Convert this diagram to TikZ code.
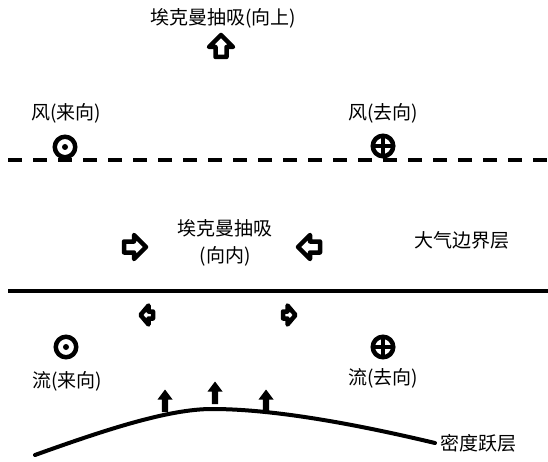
\documentclass[tikz,border=0pt]{standalone}
\usepackage{fontspec}
\newfontfamily\cjk{Noto Sans CJK SC}
\tikzset{
  lbl/.style={font=\cjk\fontsize{19}{22}\selectfont, inner sep=0pt},
  hollow/.style={draw, line width=4.5pt, fill=white, line join=round},
  smallhollow/.style={draw, line width=4.5pt, fill=white, line join=round},
  ring/.style={circle, draw, line width=4.5pt, minimum size=20.5pt, inner sep=0pt, fill=white},
  pics/bigarrow/.style={code={\draw[hollow] (0,-12) -- (12,0) -- (5.5,0) -- (5.5,10) -- (-5.5,10) -- (-5.5,0) -- (-12,0) -- cycle;}},
  pics/smallarrow/.style={code={\draw[smallhollow] (0,-6.5) -- (9.5,1.5) -- (3.5,1.5) -- (3.5,6) -- (-3.5,6) -- (-3.5,1.5) -- (-9.5,1.5) -- cycle;}},
  pics/solidup/.style={code={\fill (0,-11.5) -- (7.5,-1.5) -- (3.2,-1.5) -- (3.2,11) -- (-3.2,11) -- (-3.2,-1.5) -- (-7.5,-1.5) -- cycle;}},
}
\begin{document}
\begin{tikzpicture}[x=1pt,y=-1pt]
\useasboundingbox (0,0) rectangle (548,462);
% top
\node[lbl] (ektop) at (223,18) {埃克曼抽吸(向上)};
\pic at (221,47) {bigarrow};
% wind
\node[lbl] (windin) at (66,113) {风(来向)};
\node[lbl] (windout) at (383,113) {风(去向)};
\coordinate (dl) at (8,160);
\coordinate (dr) at (548,160);
\draw[line width=4.5pt, dash pattern=on 14pt off 11pt] (dl) -- (dr);
\node[ring] (cw1) at (65,147) {};
\fill (cw1) circle (3pt);
\node[ring] (cw2) at (383,146) {};
\draw[line width=3.5pt] ([xshift=-8pt]cw2.center) -- ([xshift=8pt]cw2.center) ([yshift=-8pt]cw2.center) -- ([yshift=8pt]cw2.center);
% middle
\node[lbl] (ekin) at (225,228) {埃克曼抽吸};
\node[lbl] (ekin2) at (225,256) {(向内)};
\node[lbl] (abl) at (462,240) {大气边界层};
\pic[rotate=-90] at (134,247) {bigarrow};
\pic[rotate=90] at (310,247) {bigarrow};
\coordinate (sl) at (8,291);
\coordinate (sr) at (548,291);
\draw[line width=4pt] (sl) -- (sr);
\pic[rotate=90] at (147,315) {smallarrow};
\pic[rotate=-90] at (289,315) {smallarrow};
% ocean
\node[ring] (co1) at (66,347) {};
\fill (co1) circle (3pt);
\node[ring] (co2) at (383,347) {};
\draw[line width=3.5pt] ([xshift=-8pt]co2.center) -- ([xshift=8pt]co2.center) ([yshift=-8pt]co2.center) -- ([yshift=8pt]co2.center);
\node[lbl] (flowin) at (67,381) {流(来向)};
\node[lbl] (flowout) at (383,378) {流(去向)};
\pic at (165,401) {solidup};
\pic at (215,393) {solidup};
\pic at (266,401) {solidup};
\coordinate (c0) at (35,455);
\coordinate (cpk) at (212,409);
\coordinate (c1) at (435,443);
\draw[line width=4pt, line cap=round] (c0) .. controls (110,428) and (170,409) .. (cpk) .. controls (260,409) and (330,418) .. (c1);
\node[lbl] (pyc) at (478,443) {密度跃层};
\end{tikzpicture}
\end{document}
